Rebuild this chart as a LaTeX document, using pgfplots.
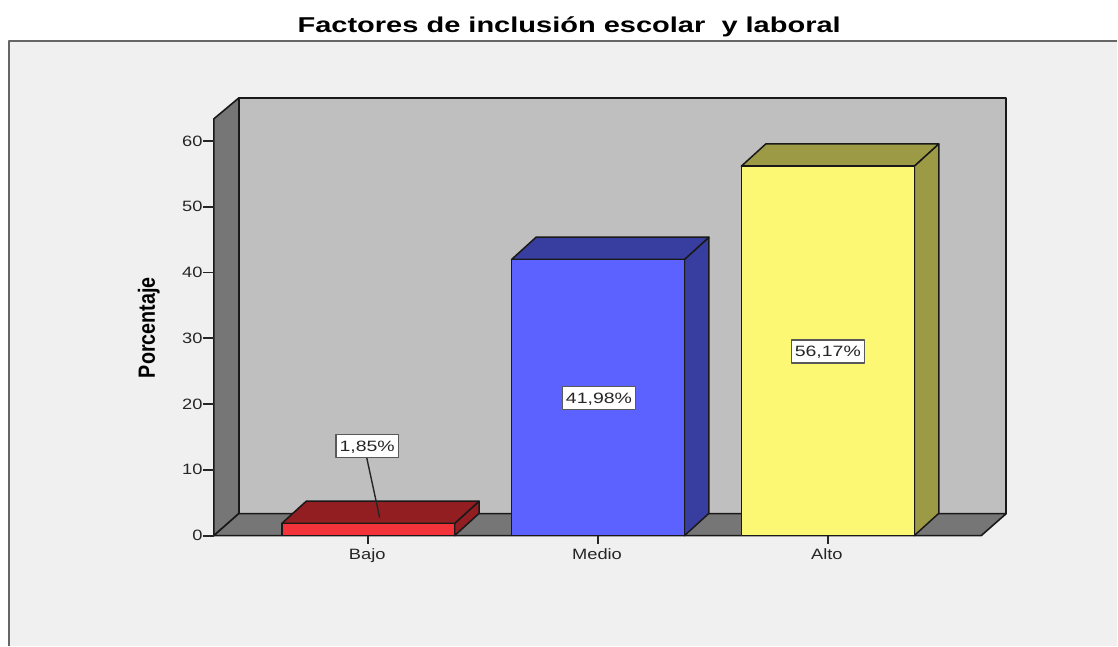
\documentclass[border=0pt]{standalone}
\usepackage{fontspec}
\usepackage{pgfplots}
\pgfplotsset{compat=1.18}
\setmainfont{Liberation Sans}
\newfontfamily\wide[FakeStretch=1.22]{Liberation Sans}
\newfontfamily\widelab[FakeStretch=1.3]{Liberation Sans}
\newfontfamily\widebold[FakeStretch=1.35]{Liberation Sans Bold}
\newfontfamily\narrowbold[FakeStretch=0.84]{Liberation Sans Bold}
\definecolor{panel}{HTML}{F0F0F0}
\definecolor{wall}{HTML}{BFBFBF}
\definecolor{side}{HTML}{767676}
\definecolor{rojo}{HTML}{F43239}
\definecolor{rojoO}{HTML}{931E22}
\definecolor{azul}{HTML}{5B62FF}
\definecolor{azulO}{HTML}{383E9F}
\definecolor{amar}{HTML}{FCF874}
\definecolor{amarO}{HTML}{9C9A45}
\begin{document}
\begin{tikzpicture}[line join=round]
\begin{axis}[
  scale only axis, width=793pt, height=438pt,
  xmin=214, xmax=1007, ymin=0, ymax=66.53,
  clip=false, axis on top,
  axis line style={draw=none},
  tick align=outside, xtick pos=bottom, ytick pos=left,
  /pgf/number format/assume math mode=true,
  xtick={368.5,598.5,828.5}, xticklabels={Bajo,Medio,Alto},
  ytick={0,10,20,30,40,50,60},
  xtick style={black!85,line width=1.8pt,/pgfplots/major tick length=8pt},
  ytick style={black!85,line width=1.8pt,/pgfplots/major tick length=11pt},
  tick label style={font=\wide\fontsize{15}{15}\selectfont,text=black!85},
  yticklabel style={xshift=-3.5pt},
  xticklabel style={yshift=-5pt,xshift=-1pt},
  title={Factores de inclusión escolar\ \ y laboral},
  title style={font=\widebold\fontsize{21.5}{22}\selectfont,at={(0.4485,1.135)},anchor=base},
  ylabel={Porcentaje},
  every axis y label/.style={at={(axis description cs:-0.082,0.475)},rotate=90,anchor=center,font=\narrowbold\fontsize{23.5}{24}\selectfont},
]
% page and panel
\addplot[fill=white,draw=none] coordinates {(0,-16.71)(0,81.42)(1118,81.42)(1118,-16.71)} --cycle;
\addplot[fill=panel,draw=none] coordinates {(9,-16.71)(9,75.2)(1118,75.2)(1118,-16.71)} --cycle;
\addplot[draw=black!60,line width=1.8pt] coordinates {(9,-16.71)(9,75.2)(1118,75.2)};
% walls
\addplot[fill=wall,draw=black!90,line width=1.6pt] coordinates {(239,3.34)(1007,3.34)(1007,66.53)(239,66.53)} --cycle;
\addplot[fill=side,draw=black!90,line width=1.6pt] coordinates {(214,0)(239,3.34)(239,66.53)(214,63.35)} --cycle;
\addplot[fill=side,draw=black!90,line width=1.6pt] coordinates {(214,0)(982,0)(1007,3.34)(239,3.34)} --cycle;
% Bajo
\addplot[fill=rojoO,draw=black!90,line width=1.5pt] coordinates {(455,0)(479.5,3.38)(479.5,5.23)(455,1.85)} --cycle;
\addplot[fill=rojoO,draw=black!90,line width=1.5pt] coordinates {(282,1.85)(455,1.85)(479.5,5.23)(306.5,5.23)} --cycle;
\addplot[ybar,bar width=173pt,bar shift=0pt,fill=rojo,draw=black!90,line width=1.5pt] coordinates {(368.5,1.85)};
% Medio
\addplot[fill=azulO,draw=black!90,line width=1.5pt] coordinates {(685,0)(709.5,3.38)(709.5,45.36)(685,41.98)} --cycle;
\addplot[fill=azulO,draw=black!90,line width=1.5pt] coordinates {(512,41.98)(685,41.98)(709.5,45.36)(536.5,45.36)} --cycle;
\addplot[ybar,bar width=173pt,bar shift=0pt,fill=azul,draw=black!90,line width=1.5pt] coordinates {(598.5,41.98)};
% Alto
\addplot[fill=amarO,draw=black!90,line width=1.5pt] coordinates {(915,0)(939.5,3.38)(939.5,59.55)(915,56.17)} --cycle;
\addplot[fill=amarO,draw=black!90,line width=1.5pt] coordinates {(742,56.17)(915,56.17)(939.5,59.55)(766.5,59.55)} --cycle;
\addplot[ybar,bar width=173pt,bar shift=0pt,fill=amar,draw=black!90,line width=1.5pt] coordinates {(828.5,56.17)};
% leader and labels
\addplot[black!85,line width=1.4pt] coordinates {(367,11.85)(380,2.73)};
\addplot[draw=none,mark=none,point meta=explicit symbolic,nodes near coords,
  nodes near coords style={anchor=center,fill=white,draw=black!65,line width=1.4pt,
    font=\widelab\fontsize{15}{15}\selectfont,text=black!85,inner xsep=3.5pt,inner ysep=0pt,minimum height=23pt,text height=11pt,text depth=0pt,yshift=-0.5pt}]
  coordinates {(367.5,13.67)[1,85\%] (599.5,20.99)[41,98\%] (828.5,28.08)[56,17\%]};
\end{axis}
\end{tikzpicture}
\end{document}
